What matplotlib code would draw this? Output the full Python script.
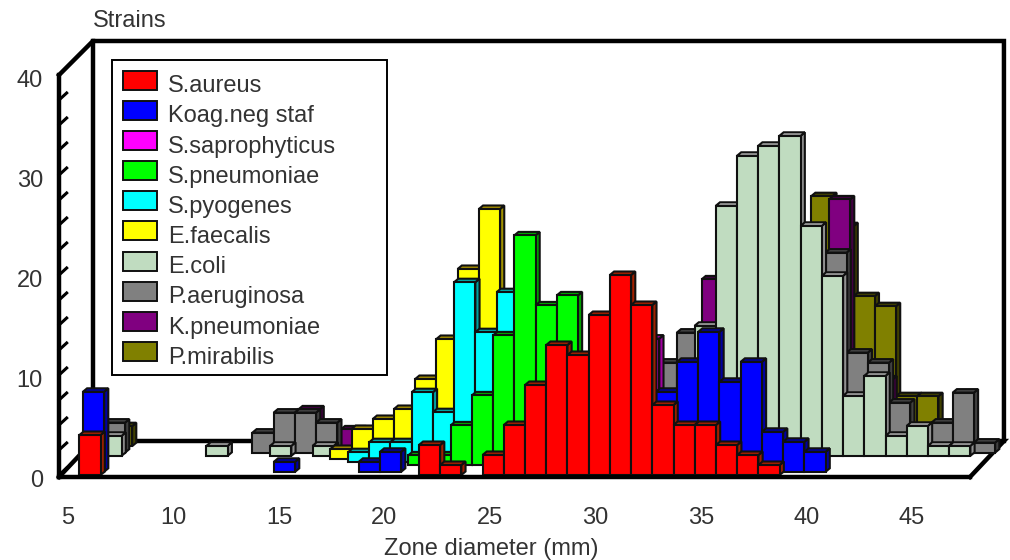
import matplotlib
matplotlib.use("Agg")
import matplotlib.pyplot as plt
from matplotlib.patches import Patch

plt.rcParams['font.family'] = ['Liberation Sans', 'DejaVu Sans']

# zone diameter (mm) and number of strains, one pair per species
aureus_x = [6, 22, 23, 25, 26, 27, 28, 29, 30, 31, 32, 33, 34, 35, 36, 37, 38]
aureus_y = [4, 3, 1, 2, 5, 9, 13, 12, 16, 20, 17, 7, 5, 5, 3, 2, 1]
koag_x = [6, 15, 19, 20, 33, 34, 35, 36, 37, 38, 39, 40]
koag_y = [8, 1, 1, 2, 8, 11, 14, 9, 11, 4, 3, 2]
sapro_x = [32]
sapro_y = [13]
pneumo_x = [21, 22, 23, 24, 25, 26, 27, 28]
pneumo_y = [1, 1, 4, 7, 13, 23, 16, 17]
pyo_x = [18, 19, 20, 21, 22, 23, 24, 25]
pyo_y = [1, 2, 2, 7, 5, 18, 13, 17]
faecalis_x = [17, 18, 19, 20, 21, 22, 23, 24]
faecalis_y = [1, 3, 4, 5, 8, 12, 19, 25]
coli_x = [6, 11, 14, 16, 34, 35, 36, 37, 38, 39, 40, 41, 42, 43, 44, 45, 46]
coli_y = [2, 1, 1, 1, 13, 25, 30, 31, 32, 23, 18, 6, 8, 2, 3, 1, 1]
aerug_x = [6, 13, 14, 15, 16, 32, 33, 34, 40, 41, 42, 43, 45, 46, 47]
aerug_y = [3, 2, 4, 4, 3, 9, 12, 12, 20, 10, 9, 5, 3, 6, 1]
kpneu_x = [15, 17, 34, 40, 42]
kpneu_y = [4, 2, 17, 25, 7]
mirab_x = [6, 39, 40, 41, 42, 43, 44]
mirab_y = [2, 25, 22, 15, 14, 5, 5]

names = ['S.aureus', 'Koag.neg staf', 'S.saprophyticus', 'S.pneumoniae', 'S.pyogenes',
         'E.faecalis', 'E.coli', 'P.aeruginosa', 'K.pneumoniae', 'P.mirabilis']
xs = [aureus_x, koag_x, sapro_x, pneumo_x, pyo_x, faecalis_x, coli_x, aerug_x, kpneu_x, mirab_x]
ys = [aureus_y, koag_y, sapro_y, pneumo_y, pyo_y, faecalis_y, coli_y, aerug_y, kpneu_y, mirab_y]
front = ['#ff0000', '#0000ff', '#ff00ff', '#00ff00', '#00ffff',
         '#ffff00', '#c0dcc0', '#808080', '#800080', '#808000']
top = ['#a82000', '#0000a8', '#a800a8', '#00a800', '#00a8a8',
       '#a89000', '#c0c0c0', '#484848', '#400040', '#404000']
side = ['#a02000', '#0000a0', '#a000a0', '#00a000', '#00a0a0',
        '#a09000', '#909090', '#404040', '#400040', '#404000']

x_ticks = [5, 10, 15, 20, 25, 30, 35, 40, 45]
y_ticks = [0, 10, 20, 30, 40]

PX_X = 21.22  # pixels per mm
PX_Y = 10.0   # pixels per strain
EDGE = '#101010'
TXT = '#333333'

fig = plt.figure(figsize=(10.1, 5.6), dpi=100, facecolor='white')
ax = fig.add_axes([0, 0, 1, 1])
ax.set_xlim(6 - 90 / PX_X, 6 + 920 / PX_X)
ax.set_ylim(-8.5, 47.5)
ax.axis('off')

# frame, floor and back wall
x0, x1, y1 = 4.54, 47.47, 40
y0 = -0.2
dx, dy = 1.6, 3.6
frame = dict(color='black', lw=3.2, solid_capstyle='projecting', solid_joinstyle='miter')
ax.plot([x0, x0 + dx, x1 + dx, x1 + dx], [y1, y1 + 3.4, y1 + 3.4, y0 + dy], zorder=0.5, **frame)
ax.plot([x0 + dx, x0 + dx], [y1 + 3.4, y0 + dy], zorder=0.5, **frame)
ax.plot([x0, x0 + dx, x1 + dx, x1], [y0, y0 + dy, y0 + dy, y0], zorder=0.5, **frame)
ax.plot([x0, x0], [y0, y1], zorder=0.5, **frame)

t = 0
while t < 40:
    ax.plot([x0, x0 + 0.36], [t, t + 0.7], color='black', lw=2.2, zorder=0.5)
    t += 2.5

# bars from the back row to the front row
off_x = 3.5 / PX_X
off_y = 3.2 / PX_Y
box_x = 4.2 / PX_X
box_y = 0.35
for i in range(len(names) - 1, -1, -1):
    base = i * off_y
    for v, h in zip(xs[i], ys[i]):
        left = v - 0.5 + i * off_x
        right = left + 1
        upper = base + h
        ax.fill([right, right + box_x, right + box_x, right],
                [base, base + box_y, upper + box_y, upper],
                facecolor=side[i], edgecolor=EDGE, lw=1.5, zorder=1)
        ax.fill([left, left + box_x, right + box_x, right],
                [upper, upper + box_y, upper + box_y, upper],
                facecolor=top[i], edgecolor=EDGE, lw=1.5, zorder=1)
        ax.bar(left, h, width=1, bottom=base, align='edge',
               facecolor=front[i], edgecolor=EDGE, lw=1.5, zorder=1)

ax.plot([x0, x1], [y0, y0], zorder=3, **frame)

handles = [Patch(facecolor=front[i], edgecolor=EDGE, lw=1.4, label=names[i]) for i in range(len(names))]
leg = ax.legend(handles=handles, loc='upper left',
                bbox_to_anchor=(6 + (112 - 90) / PX_X, 9.9, 275 / PX_X, 31.6),
                bbox_transform=ax.transData, borderaxespad=0, mode='expand', fontsize=17, fancybox=False,
                framealpha=1, edgecolor='black', labelcolor=TXT, handlelength=1.47, handleheight=0.854,
                handletextpad=0.46, labelspacing=0.32, borderpad=0.45)
leg.get_frame().set_linewidth(1.4)
leg.set_zorder(0.8)
for label in leg.get_texts():
    label.set_y(-4)

for v in x_ticks:
    ax.text(4.963 + (v - 5) * 0.9943, -4.3, str(v), ha='center', va='center', fontsize=17, color=TXT)
for v in y_ticks:
    ax.text(3.785, v - 0.6, str(v), ha='right', va='center', fontsize=17, color=TXT)
ax.text(6 + (491 - 90) / PX_X, -7.4, 'Zone diameter (mm)', ha='center', va='center', fontsize=17, color=TXT)
ax.text(6 + (93 - 90) / PX_X, 45.4, 'Strains', ha='left', va='center', fontsize=17, color=TXT)

fig.savefig('out.png', dpi=100)
